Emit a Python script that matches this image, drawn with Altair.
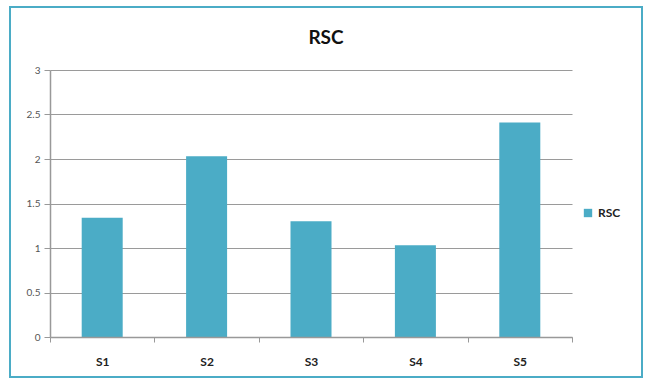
import altair as alt
import pandas as pd

categories = ["S1", "S2", "S3", "S4", "S5"]
values = [1.34, 2.03, 1.30, 1.03, 2.41]
series = ["RSC"] * 5
title_text = "RSC"

df = pd.DataFrame({"cat": categories, "val": values, "series": series})

FONT = "Lato"
COLOR = "#4BACC6"

one = pd.DataFrame({"a": [0]})

border = alt.Chart(one).mark_rect(
    fill="white", fillOpacity=0, stroke="#4BACC6", strokeWidth=2, clip=False
).encode(
    x=alt.value(-40), x2=alt.value(592), y=alt.value(-63), y2=alt.value(307)
)

title = alt.Chart(one).mark_text(
    text=title_text, font=FONT, fontSize=19, fontWeight="bold", color="#111111",
    align="center", baseline="middle", clip=False
).encode(x=alt.value(276), y=alt.value(-32))

bars = alt.Chart(df).mark_bar(color=COLOR, size=41).encode(
    x=alt.X("cat:N", sort=categories, title=None,
            scale=alt.Scale(paddingInner=0, paddingOuter=0),
            axis=alt.Axis(labelAngle=0, labelFont=FONT, labelFontSize=12,
                          labelFontWeight="bold", labelColor="#222222",
                          labelPadding=14, tickBand="extent", ticks=True,
                          tickColor="#999999", tickSize=5, domainColor="#999999",
                          domainWidth=1.5, grid=False, zindex=1)),
    y=alt.Y("val:Q", title=None,
            scale=alt.Scale(domain=[0, 3], nice=False),
            axis=alt.Axis(values=[0, 0.5, 1, 1.5, 2, 2.5, 3], labelFont=FONT,
                          labelFontSize=10, labelColor="#555555", labelPadding=4,
                          tickColor="#999999", tickSize=6, domainColor="#999999",
                          domainWidth=1.5, gridColor="#9a9a9a", gridWidth=1.2,
                          labelExpr="datum.value")),
    fill=alt.Fill("series:N", scale=alt.Scale(range=[COLOR]),
                  legend=alt.Legend(title=None, orient="none", legendX=532,
                                    legendY=137, symbolType="square",
                                    symbolSize=70, labelFont=FONT,
                                    labelFontSize=12, labelFontWeight="bold",
                                    labelColor="#222222")),
)

chart = alt.layer(border, title, bars).properties(
    width=522, height=267,
    padding={"left": 50, "top": 70, "right": 74, "bottom": 44},
    autosize=alt.AutoSizeParams(type="none"),
    background="white",
).configure_view(stroke=None)

chart.save("out.html", embed_options={"renderer": "svg", "actions": False})
